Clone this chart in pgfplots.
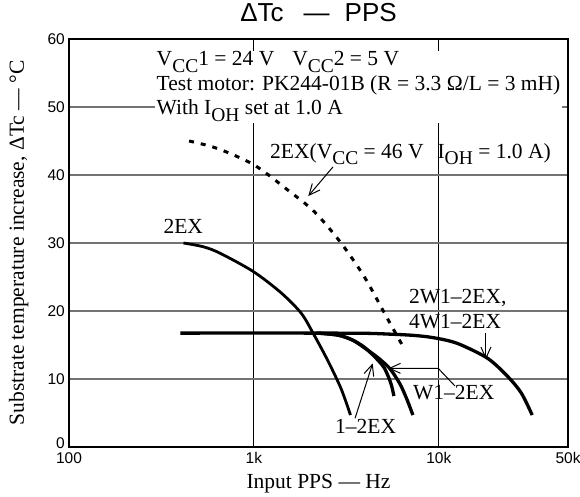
\documentclass[border=0pt]{standalone}
\usepackage{fontspec}
\setmainfont{Liberation Serif}
\setsansfont{Liberation Sans}
\usepackage{pgfplots}
\pgfplotsset{compat=1.18}
\usetikzlibrary{arrows.meta}
\newcommand{\sub}[1]{\raisebox{-6.5pt}{\fontsize{19.5}{20}\selectfont #1}}
\begin{document}
\begin{tikzpicture}
\begin{axis}[
  scale only axis, width=499pt, height=408pt,
  xmode=log, xmin=100, xmax=50000, ymin=0, ymax=60,
  xtick={100,1000,10000,50000}, xticklabels={100,1k,10k,50k},
  ytick={0,10,20,30,40,50,60}, yticklabels={\raisebox{-1.5pt}[0pt][0pt]{0},10,20,30,40,50,60},
  xminorticks=false,
  major tick length=0pt,
  grid=major,
  major x grid style={black, line width=0.9pt},
  major y grid style={black!55, line width=1.3pt},
  axis line style={line width=1.5pt},
  tick label style={font=\sffamily\fontsize{15.5}{16}\selectfont},
  xticklabel style={anchor=north, inner sep=0pt, yshift=-5pt},
  yticklabel style={anchor=east, inner sep=0pt, xshift=-4pt},
  title={ΔTc\hspace{20pt}—\hspace{15pt}PPS},
  title style={at={(axis description cs:0.5,1)}, anchor=base, yshift=12pt, font=\sffamily\fontsize{26}{26}\selectfont, inner sep=0pt},
  xlabel={Input PPS — Hz},
  xlabel style={at={(axis description cs:0.5,0)}, anchor=base, yshift=-41pt, font=\fontsize{21.5}{22}\selectfont, inner sep=0pt},
  ylabel={Substrate temperature increase, ΔTc — °C},
  ylabel style={at={(axis description cs:-0.0902,0.5)}, anchor=base, font=\fontsize{21.5}{22}\selectfont, inner sep=0pt},
]
% 2EX
\addplot[black, line width=2.8pt, smooth] coordinates {(416,30)(532,29.45)(656,28.5)(993,25.8)(1400,22.7)(1800,19.7)(2094,16.7)(2500,12.8)(2960,8.6)(3330,4.7)};
% flat + 2W1-2EX, 4W1-2EX
\addplot[black, line width=3.3pt, smooth] coordinates {(400,16.75)(2000,16.75)(4000,16.72)(5400,16.6)(7000,16.45)(8730,16.2)(11000,15.7)(13250,15.0)(18480,13.0)(23730,10.3)(28000,7.9)(32000,4.7)};
% 1-2EX
\addplot[black, line width=3.3pt, smooth] coordinates {(2200,16.75)(2850,16.45)(3430,15.7)(3900,14.8)(4300,13.8)(4750,12.6)(5080,11.6)(5400,10.0)(5570,8.9)(5720,7.5)};
% W1-2EX
\addplot[black, line width=3.3pt, smooth] coordinates {(2200,16.75)(2850,16.45)(3430,15.7)(4350,13.8)(4900,12.7)(5410,11.6)(5850,10.3)(6270,8.9)(6750,6.9)(7245,4.7)};
% 2EX (VCC = 46 V)
\addplot[black, line width=3pt, dash pattern=on 5pt off 7pt, smooth] coordinates {(446,45.0)(635,43.9)(1000,41.5)(1523,37.8)(2124,34.6)(2961,30.0)(3963,25.0)(5080,19.7)(6400,14.8)};

\node[anchor=north west, fill=white, inner xsep=1.5pt, inner ysep=1pt, align=left, font=\fontsize{21.5}{24.5}\selectfont] at (axis cs:292,58.3) {V\sub{CC}1 = 24 V\hspace{18pt}V\sub{CC}2 = 5 V\\Test motor: PK244-01B (R = 3.3 Ω/L = 3 mH)\\With I\sub{OH} set at 1.0 A};

\node[anchor=base west, inner sep=0pt, font=\fontsize{21.5}{22}\selectfont] at (axis cs:1222,42.46) {2EX(V\sub{CC} = 46 V\hspace{14pt}I\sub{OH} = 1.0 A)};
\node[anchor=base, inner sep=0pt, font=\fontsize{21.5}{22}\selectfont] at (axis cs:415,31.4) {2EX};
\node[anchor=base west, inner sep=0pt, font=\fontsize{21.5}{22}\selectfont] at (axis cs:6900,21.1) {2W1–2EX,};
\node[anchor=base west, inner sep=0pt, font=\fontsize{21.5}{22}\selectfont] at (axis cs:6900,17.5) {4W1–2EX};
\node[anchor=base west, inner sep=0pt, font=\fontsize{21.5}{22}\selectfont] at (axis cs:7244,7.0) {W1–2EX};
\node[anchor=base west, inner sep=0pt, font=\fontsize{21.5}{22}\selectfont] at (axis cs:2746,2.0) {1–2EX};

\draw[line width=1pt, -{Straight Barb[length=11pt,width=10pt]}] (axis cs:2680,41.2) -- (axis cs:1968,36.9);
\draw[line width=1pt, -{Straight Barb[length=11pt,width=10pt]}] (axis cs:17990,16.8) -- (axis cs:17990,12.9);
\draw[line width=1pt, -{Straight Barb[length=11pt,width=10pt]}] (axis cs:12236,8.97) -- (axis cs:9930,11.57) -- (axis cs:5335,11.57);
\draw[line width=1pt, -{Straight Barb[length=11pt,width=10pt]}] (axis cs:3524,4.22) -- (axis cs:4390,12.3);
\end{axis}
\pgfresetboundingbox
\path[use as bounding box] ([shift={(-69pt,-49pt)}]current axis.south west) rectangle ++(580pt,496pt);
\end{tikzpicture}
\end{document}
